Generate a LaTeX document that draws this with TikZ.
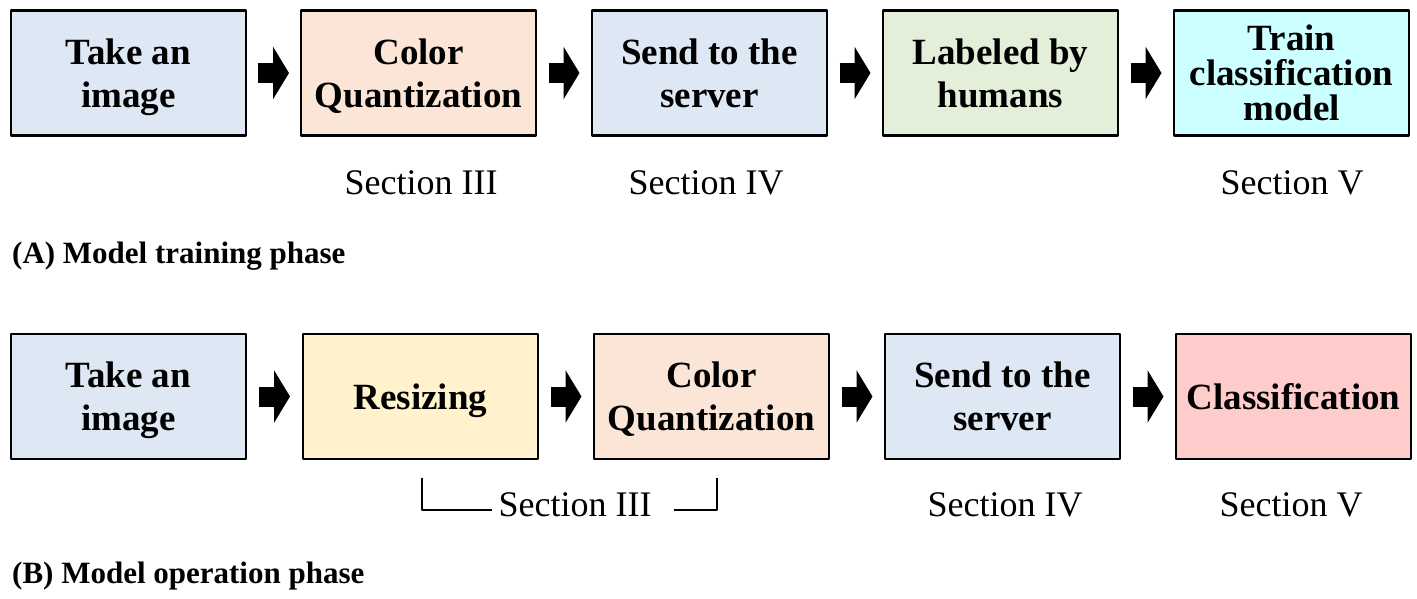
\documentclass[tikz,border=0pt]{standalone}
\usepackage{fontspec}
\setmainfont{Liberation Serif}
\usetikzlibrary{arrows.meta,calc}
\definecolor{cblue}{HTML}{DEE8F5}
\definecolor{cpeach}{HTML}{FBE5D6}
\definecolor{cgreen}{HTML}{E3EFD9}
\definecolor{ccyan}{HTML}{CCFFFF}
\definecolor{cyellow}{HTML}{FFF2CC}
\definecolor{cpink}{HTML}{FFCCCC}
\tikzset{
  stepbox/.style={draw=black, line width=2.6pt, line join=round, minimum width=235pt, minimum height=125pt,
    inner sep=0pt, outer sep=0pt, align=center, text depth=0pt, font=\fontsize{37}{43}\selectfont\bfseries},
  seclabel/.style={anchor=base, inner sep=0pt, font=\fontsize{36}{40}\selectfont},
  caption/.style={anchor=base west, inner sep=0pt, font=\fontsize{31}{35}\selectfont\bfseries},
  flowarrow/.style={line width=20pt, -{Triangle[length=16pt,width=52pt]}},
  bracket/.style={line width=2.4pt, line join=round}
}
\newcommand{\flowarr}[2]{%
  \coordinate (m#1#2) at ($(#1.east)!0.5!(#2.west)$);
  \draw[flowarrow] ([xshift=-15.5pt]m#1#2) -- ([xshift=15.5pt]m#1#2);}
\begin{document}
\begin{tikzpicture}[x=1pt,y=-1pt]
\useasboundingbox (0,0) rectangle (1417,599);
% Row A
\node[stepbox, fill=cblue]  (a1) at (128.5,73) {Take an\\image};
\node[stepbox, fill=cpeach] (a2) at (418.5,73) {Color\\Quantization};
\node[stepbox, fill=cblue]  (a3) at (709.5,73) {Send to the\\server};
\node[stepbox, fill=cgreen] (a4) at (1000.5,73) {Labeled by\\humans};
\node[stepbox, fill=ccyan, font=\fontsize{37}{35}\selectfont\bfseries] (a5) at (1291.5,73) {Train\\classification\\model};
\flowarr{a1}{a2}
\flowarr{a2}{a3}
\flowarr{a3}{a4}
\flowarr{a4}{a5}
\node[seclabel] (sa2) at (421,194) {Section III};
\node[seclabel] (sa3) at (706,194) {Section IV};
\node[seclabel] (sa5) at (1292,194) {Section V};
\node[caption] (capA) at (12,263) {(A) Model training phase};
% Row B
\node[stepbox, fill=cblue]   (b1) at (128.5,396.5) {Take an\\image};
\node[stepbox, fill=cyellow] (b2) at (420.5,396.5) {Resizing};
\node[stepbox, fill=cpeach]  (b3) at (711.5,396.5) {Color\\Quantization};
\node[stepbox, fill=cblue]   (b4) at (1002.5,396.5) {Send to the\\server};
\node[stepbox, fill=cpink]   (b5) at (1293.5,396.5) {Classification};
\flowarr{b1}{b2}
\flowarr{b2}{b3}
\flowarr{b3}{b4}
\flowarr{b4}{b5}
\node[seclabel] (sb23) at (575,516) {Section III};
\node[seclabel] (sb4) at (1005,516) {Section IV};
\node[seclabel] (sb5) at (1291,516) {Section V};
\coordinate (brL) at (422,478);
\coordinate (brR) at (717,478);
\draw[bracket] (brL) |- ([xshift=-6pt]sb23.west |- 0,510);
\draw[bracket] ([xshift=22pt]sb23.east |- 0,510) -| (brR);
\node[caption] (capB) at (12,583) {(B) Model operation phase};
\end{tikzpicture}
\end{document}
